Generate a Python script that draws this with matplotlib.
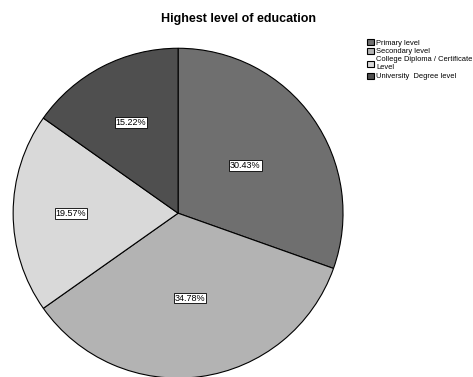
import matplotlib.pyplot as plt
import numpy as np

plt.rcParams["font.family"] = ["Liberation Sans", "DejaVu Sans"]

categories = ["Primary level", "Secondary level",
              "College Diploma / Certificate\nLevel", "University  Degree level"]
counts = [14, 16, 9, 7]
colors = ["#6f6f6f", "#b3b3b3", "#d9d9d9", "#4f4f4f"]

fig = plt.figure(figsize=(4.73, 3.77), dpi=100)
fig.text(0.505, 0.95, "Highest level of education", ha="center", va="center",
         fontsize=9, fontweight="semibold")

ax = fig.add_axes([0.0275, -0.003, 0.698, 0.875])
wedges, texts, autotexts = ax.pie(
    counts, colors=colors, startangle=90, counterclock=False,
    autopct="%1.2f%%", pctdistance=0.5,
    wedgeprops=dict(edgecolor="black", linewidth=0.8),
    textprops=dict(fontsize=6.5),
)
# push a few labels further out, like the original
dist = [0.5, 0.52, 0.65, 0.62]
for t, w, d in zip(autotexts, wedges, dist):
    ang = np.deg2rad((w.theta1 + w.theta2) / 2)
    t.set_position((d * np.cos(ang), d * np.sin(ang)))
    t.set_bbox(dict(facecolor="white", edgecolor="black", linewidth=0.6, pad=0.6))
ax.set_aspect("equal")
ax.set_xlim(-1, 1)
ax.set_ylim(-1, 1)

ax.legend(wedges, categories, loc="upper left", bbox_to_anchor=(0.77, 0.905),
          bbox_transform=fig.transFigure, frameon=False, fontsize=5.4,
          handlelength=0.9, handleheight=0.9, handletextpad=0.3,
          labelspacing=0.15, borderaxespad=0)

fig.savefig("out.png", dpi=100)
